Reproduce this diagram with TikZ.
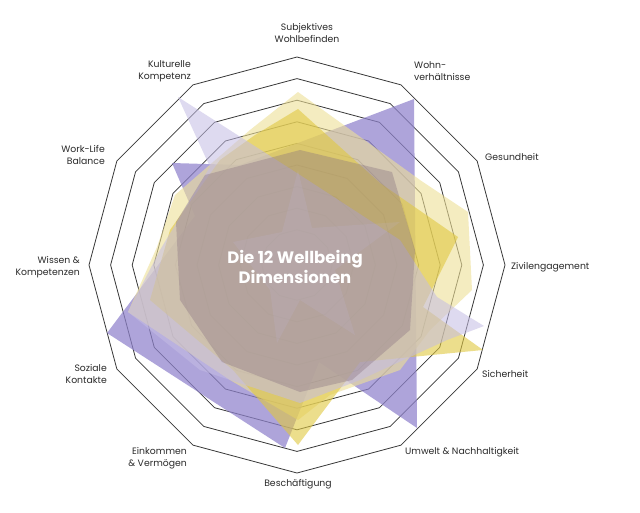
\documentclass[tikz,border=0pt]{standalone}
\usepackage{fontspec}
\setmainfont{Poppins}
\definecolor{ringc}{HTML}{383838}
\definecolor{labelc}{HTML}{2A2A2A}
\definecolor{purp}{HTML}{8F82CC}
\definecolor{lav}{HTML}{C4BCE4}
\definecolor{paley}{HTML}{EEE096}
\definecolor{saty}{HTML}{E0C840}
\definecolor{mauve}{HTML}{86707F}
\begin{document}
\begin{tikzpicture}[x=1pt,y=-1pt,
  ring/.style={draw=ringc, line width=0.8pt, line join=miter},
  lbl/.style={text=labelc, font=\fontsize{9.3}{12.4}\selectfont, inner sep=0pt},
  area/.style={draw=none}]
\useasboundingbox (0,0) rectangle (640,512);
\fill[white] (0,0) rectangle (640,512);
\coordinate (c) at (297,265);
% rings
\foreach \k in {0,...,8} {
  \pgfmathsetmacro\r{208-21.6*\k}
  \draw[ring] plot[samples at={0,30,...,330}] ({297+\r*cos(\x)},{265+\r*sin(\x)}) -- cycle;
}
% purple series
\fill[area, purp, fill opacity=0.72] (414,99) -- (417,428) -- (319,362) -- (285,448) -- (107,333) -- (195,216) -- (172,163) -- (240,165) -- cycle;
% pale yellow series
\fill[area, paley, fill opacity=0.6] (298,92) -- (420,180) -- (468,212) -- (472,290) -- (430,330) -- (400,370) -- (330,395) -- (298,420) -- (230,380) -- (128,312) -- (157,247) -- (175,195) -- (250,130) -- cycle;
% saturated yellow series
\fill[area, saty, fill opacity=0.6] (298,109) -- (380,183) -- (458,237) -- (423,307) -- (483,350) -- (360,362) -- (298,445) -- (233,370) -- (150,300) -- (170,230) -- (220,160) -- (255,135) -- cycle;
% lavender series
\fill[area, lav, fill opacity=0.55] (178,97) -- (300,175) -- (400,240) -- (437,297) -- (484,326) -- (447,340) -- (360,380) -- (300,403) -- (200,370) -- (128,312) -- (160,250) -- (210,167) -- cycle;
% inner mauve series
\fill[area, mauve, fill opacity=0.36] (205,175) -- (300,150) -- (392,172) -- (415,250) -- (410,330) -- (352,380) -- (300,392) -- (222,362) -- (180,300) -- (176,222) -- cycle;
% inner light star
\fill[area, lav, fill opacity=0.14] (298,170) -- (312,228) -- (400,222) -- (335,270) -- (355,335) -- (300,300) -- (277,343) -- (270,290) -- (233,242) -- (282,232) -- cycle;
% title
\node[text=white, font=\fontsize{16.5}{20}\selectfont\bfseries, align=center] (title) at (295,267) {Die 12 Wellbeing\\Dimensionen};
% labels
\node[lbl, align=center, anchor=center] (l1) at (307,33) {Subjektives\\Wohlbefinden};
\node[lbl, align=left, anchor=west] (l2) at (414,71) {Wohn-\\verhältnisse};
\node[lbl, anchor=west] (l3) at (485,157) {Gesundheit};
\node[lbl, anchor=west] (l4) at (511,267) {Zivilengagement};
\node[lbl, anchor=west] (l5) at (482,374) {Sicherheit};
\node[lbl, anchor=west] (l6) at (405,452) {Umwelt \& Nachhaltigkeit};
\node[lbl, anchor=center] (l7) at (298,484) {Beschäftigung};
\node[lbl, align=right, anchor=east] (l8) at (187,458) {Einkommen\\\& Vermögen};
\node[lbl, align=right, anchor=east] (l9) at (107,374) {Soziale\\Kontakte};
\node[lbl, align=right, anchor=east] (l10) at (80,267) {Wissen \&\\Kompetenzen};
\node[lbl, align=right, anchor=east] (l11) at (105,155) {Work-Life\\Balance};
\node[lbl, align=right, anchor=east] (l12) at (191,71) {Kulturelle\\Kompetenz};
\end{tikzpicture}
\end{document}
